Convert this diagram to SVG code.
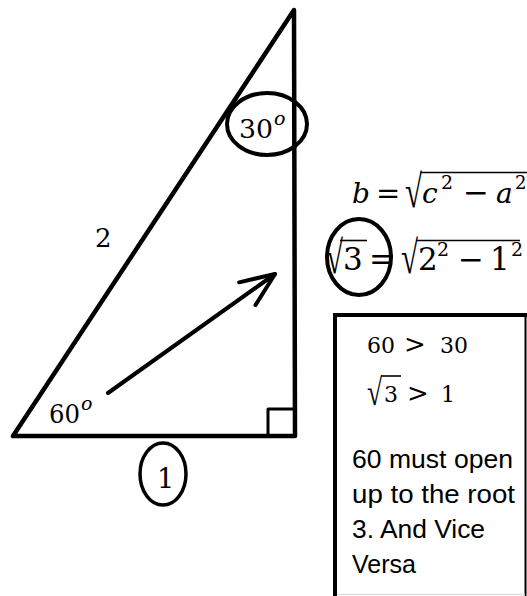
<svg xmlns="http://www.w3.org/2000/svg" width="527" height="596" viewBox="0 0 527 596">
<style>
.m{font-family:"DejaVu Serif","Liberation Serif",serif;fill:#000}
.r{font-family:"Liberation Serif","Times New Roman",serif;fill:#000}
.i{font-style:italic}
.t{font-family:"Liberation Sans",Arial,sans-serif;font-size:25px;fill:#000}
.k{fill:none;stroke:#000;stroke-linecap:round;stroke-linejoin:round}
.v{stroke:#000;stroke-width:1.6}
</style>
<defs>
<marker id="ah" markerUnits="userSpaceOnUse" viewBox="-40 -20 44 40" refX="0" refY="0" markerWidth="44" markerHeight="40" orient="auto">
<polyline points="-34,-14 0,0 -34,14" fill="none" stroke="#000" stroke-width="4" stroke-linecap="round" stroke-linejoin="round"/>
</marker>
</defs>
<rect width="527" height="596" fill="#fff"/>

<g id="triangle">
<polygon class="k" stroke-width="4.5" points="13,436 295,436 294,10"/>
<rect class="k" stroke-width="3" x="268" y="409" width="27" height="27"/>
</g>

<g id="connectors">
<line class="k" stroke-width="4" x1="108" y1="393" x2="275" y2="274" marker-end="url(#ah)"/>
</g>

<g id="label-hyp">
<text class="m" font-size="26" x="95" y="247">2</text>
</g>

<g id="label-base">
<ellipse class="k" stroke-width="3.5" cx="163" cy="474" rx="23" ry="31"/>
<text class="m" font-size="27" x="157" y="488">1</text>
</g>

<g id="angle-60">
<text class="m" font-size="26" x="49" y="423" textLength="31" lengthAdjust="spacingAndGlyphs">60</text>
<text class="m i" font-size="19" x="81" y="410">o</text>
</g>

<g id="angle-30">
<ellipse class="k" stroke-width="4" cx="267" cy="124" rx="40" ry="31"/>
<text class="m" font-size="26" x="239" y="138" textLength="34" lengthAdjust="spacingAndGlyphs">30</text>
<text class="m i" font-size="19" x="274" y="125">o</text>
</g>

<g id="formula-1">
<text class="m i" font-size="28" x="352" y="203">b</text>
<text class="m" font-size="29" x="376" y="203">=</text>
<text class="r" font-size="31" transform="translate(405,207) scale(1,1.5)">√</text>
<line class="v" x1="420" y1="172.5" x2="527" y2="172.5"/>
<text class="m i" font-size="28" x="422" y="203">c</text>
<text class="m" font-size="19" x="441" y="189">2</text>
<text class="m" font-size="31" x="463" y="203">−</text>
<text class="m i" font-size="28" x="496" y="203">a</text>
<text class="m" font-size="18" x="515" y="189">2</text>
</g>

<g id="formula-2">
<text class="r" font-size="31" transform="translate(326,273) scale(1,1.5)">√</text>
<line class="v" x1="340" y1="240.5" x2="367" y2="240.5"/>
<text class="m" font-size="31" x="343" y="270">3</text>
<text class="m" font-size="31" x="369" y="270">=</text>
<text class="r" font-size="31" transform="translate(401,273) scale(1,1.5)">√</text>
<line class="v" x1="416" y1="240.5" x2="520" y2="240.5"/>
<text class="m" font-size="31" x="418" y="270">2</text>
<text class="m" font-size="19" x="437" y="256">2</text>
<text class="m" font-size="31" x="458" y="270">−</text>
<text class="m" font-size="31" x="490" y="270">1</text>
<text class="m" font-size="19" x="511" y="256">2</text>
<ellipse class="k" stroke-width="4" cx="359" cy="257" rx="32" ry="38"/>
</g>

<g id="note-box">
<line stroke="#000" stroke-width="4" x1="335" y1="313" x2="335" y2="596"/>
<line stroke="#000" stroke-width="4" x1="333" y1="315" x2="527" y2="315"/>
<line stroke="#000" stroke-width="2" x1="525.5" y1="315" x2="525.5" y2="596"/>
<line stroke="#ddd" stroke-width="1.5" x1="337" y1="594.5" x2="525" y2="594.5"/>
<text class="m" font-size="22" x="367" y="353" textLength="28" lengthAdjust="spacingAndGlyphs">60</text>
<text class="m" font-size="26" x="404" y="353">&gt;</text>
<text class="m" font-size="22" x="440" y="353" textLength="28" lengthAdjust="spacingAndGlyphs">30</text>
<text class="r" font-size="25" transform="translate(367,405) scale(1.1,1.5)">√</text>
<line class="v" x1="381" y1="376" x2="401" y2="376"/>
<text class="m" font-size="22" x="384" y="402">3</text>
<text class="m" font-size="26" x="407" y="402">&gt;</text>
<text class="m" font-size="22" x="441" y="402">1</text>
<text class="t" x="352" y="468" textLength="161" lengthAdjust="spacingAndGlyphs">60 must open</text>
<text class="t" x="352" y="503" textLength="163" lengthAdjust="spacingAndGlyphs">up to the root</text>
<text class="t" x="352" y="538" textLength="133" lengthAdjust="spacingAndGlyphs">3. And Vice</text>
<text class="t" x="352" y="573" textLength="64" lengthAdjust="spacingAndGlyphs">Versa</text>
</g>
</svg>
